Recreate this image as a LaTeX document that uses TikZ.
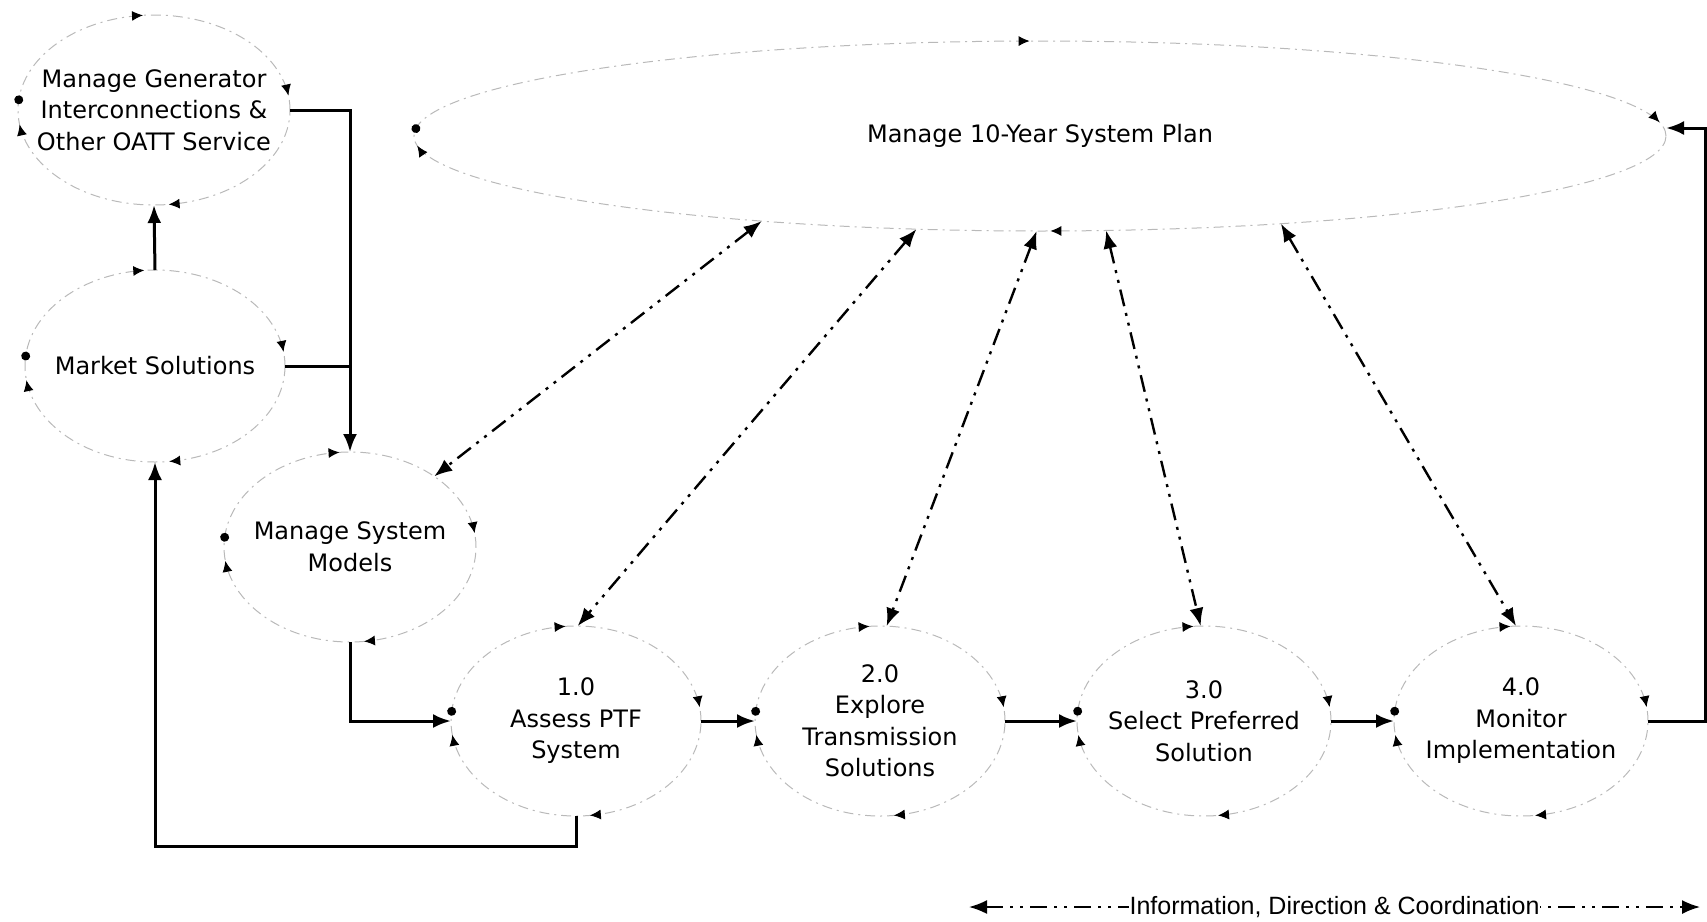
\documentclass[tikz,border=0pt]{standalone}
\usepackage{fontspec}
\setmainfont{DejaVu Sans}
\newfontfamily\legendfont{Liberation Sans}
\usetikzlibrary{shapes.geometric, arrows.meta, decorations.markings}

\begin{document}
\begin{tikzpicture}[x=1pt, y=-1pt]

\tikzset{cyc/.tip = {Latex[length=11pt,width=10pt,color=black]}}
\tikzset{procmarks/.style n args = {5}{postaction={decorate}, decoration={markings,
  mark=at position #1 with {\arrowreversed{cyc}},
  mark=at position #2 with {\arrowreversed{cyc}},
  mark=at position #3 with {\fill[black] (0,0) circle (4.5pt);},
  mark=at position #4 with {\arrowreversed{cyc}},
  mark=at position #5 with {\arrowreversed{cyc}}}}}
\tikzset{ring/.style = {shape=ellipse, draw=gray!55, line width=1pt, dash pattern=on 10pt off 5pt on 2pt off 5pt, inner sep=0pt, outer sep=0pt}}
\tikzset{proc/.style = {ring, procmarks={0.02}{0.265}{0.486}{0.52}{0.77}}}
\tikzset{bigproc/.style = {ring, procmarks={0.006}{0.254}{0.497}{0.504}{0.754}}}
\tikzset{txt/.style = {align=center, inner sep=0pt, font=\fontsize{24}{31.5}\selectfont}}
\tikzset{wire/.style = {line width=3pt}}
\tikzset{flow/.style = {wire, -{Latex[length=18pt,width=14pt]}}}
\tikzset{info/.style = {line width=2.4pt, dash pattern=on 17pt off 7pt on 3pt off 7pt on 3pt off 7pt, {Latex[length=18pt,width=14pt]}-{Latex[length=18pt,width=14pt]}}}

\useasboundingbox (0,0) rectangle (1707,921);

%processes
\node[bigproc, minimum width=1252pt, minimum height=190pt, label={[txt]center:Manage 10-Year System Plan}] (plan) at (1040,136) {};
\node[proc, minimum width=272pt, minimum height=190pt, label={[txt]center:{Manage Generator\\Interconnections \&\\Other OATT Service}}] (gen) at (154,110) {};
\node[proc, minimum width=260pt, minimum height=192pt, label={[txt]center:Market Solutions}] (mkt) at (155,366) {};
\node[proc, minimum width=252pt, minimum height=190pt, label={[txt]center:{Manage System\\Models}}] (models) at (350,547) {};
\node[proc, minimum width=250pt, minimum height=190pt, label={[txt]center:{1.0\\Assess PTF\\System}}] (1) at (576,721) {};
\node[proc, minimum width=250pt, minimum height=190pt, label={[txt]center:{2.0\\Explore\\Transmission\\Solutions}}] (2) at (880,721) {};
\node[proc, minimum width=254pt, minimum height=190pt, label={[txt]center:{3.0\\Select Preferred\\Solution}}] (3) at (1204,721) {};
\node[proc, minimum width=254pt, minimum height=190pt, label={[txt]center:{4.0\\Monitor\\Implementation}}] (4) at (1521,721) {};

%flows
\draw[flow] (gen.east) -| (models.north);
\draw[wire] (mkt.east) -- (mkt.east -| models.north);
\draw[flow] (mkt.north) -- (gen.south);
\draw[flow] (models.south) |- (1.west);
\draw[flow] (1.east) -- (2.west);
\draw[flow] (2.east) -- (3.west);
\draw[flow] (3.east) -- (4.west);
\draw[flow] (1.south) -- ++(0,30) -| (mkt.south);
\draw[flow] (4.east) -- ++(57,0) |- ([yshift=8pt]plan.east);

%information
\draw[info] (plan.197) -- (models.40);
\draw[info] (plan.217) -- (1.89);
\draw[info] (plan.268) -- (2.86);
\draw[info] (plan.305) -- (3.92);
\draw[info] (plan.340) -- (4.93);

%legend
\coordinate (la) at (969,907);
\coordinate (lb) at (1700,907);
\draw[info, line width=1.8pt] (la) -- node[fill=white, inner xsep=1pt, font=\legendfont\fontsize{25}{30}\selectfont] (legend) {Information, Direction \& Coordination} (lb);

\end{tikzpicture}
\end{document}
